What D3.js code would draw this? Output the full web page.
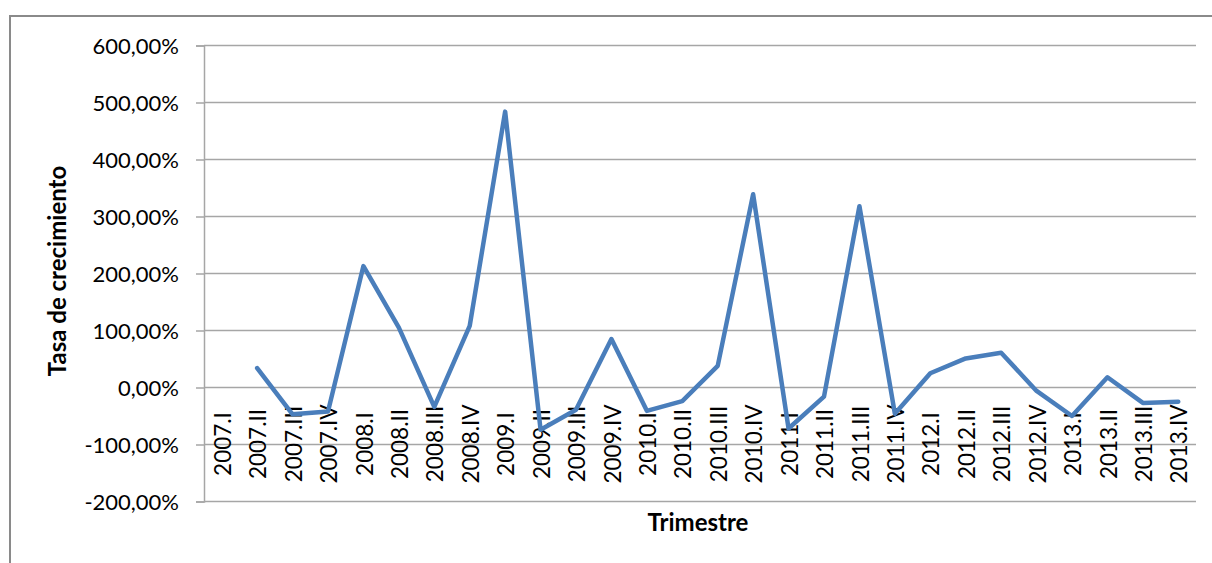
<!DOCTYPE html>
<html>
<head>
<meta charset="utf-8">
<script src="https://cdn.jsdelivr.net/npm/d3@7"></script>
<style>
  html, body { margin: 0; padding: 0; background: #fff; }
  svg { display: block; }
  text { font-family: Lato, "Open Sans", sans-serif; fill: #000; }
</style>
</head>
<body>
<svg id="chart" width="1212" height="563"></svg>
<script>
const categories = [
  "2007.I","2007.II","2007.III","2007.IV",
  "2008.I","2008.II","2008.III","2008.IV",
  "2009.I","2009.II","2009.III","2009.IV",
  "2010.I","2010.II","2010.III","2010.IV",
  "2011.I","2011.II","2011.III","2011.IV",
  "2012.I","2012.II","2012.III","2012.IV",
  "2013.I","2013.II","2013.III","2013.IV"
];
// growth rate in percent (2007.I has no value)
const growth = [
  null, 34, -47, -42,
  213, 105, -34, 108,
  484, -74, -39, 85,
  -41, -24, 38, 339,
  -72, -16, 318, -46,
  25, 51, 61, -6,
  -50, 18, -27, -25
];
const yTicks = [-200, -100, 0, 100, 200, 300, 400, 500, 600];
const yTitle = "Tasa de crecimiento";
const xTitle = "Trimestre";

const svg = d3.select("#chart");
const plotL = 204, plotR = 1196, plotT = 45.5, plotB = 501.5;

const x = d3.scaleBand().domain(categories).range([plotL, plotR]).padding(0);
const y = d3.scaleLinear().domain([-200, 600]).range([plotB, plotT]);

const loc = d3.formatLocale({decimal: ",", thousands: ".", grouping: [3], currency: ["", ""], minus: "-"});
const fmt = v => loc.format(".2f")(v) + "%";

// outer frame
svg.append("rect")
  .attr("x", 10).attr("y", 16).attr("width", 1230).attr("height", 600)
  .attr("fill", "none").attr("stroke", "#8a8a8a").attr("stroke-width", 2);

// gridlines
svg.append("g").selectAll("line").data(yTicks).join("line")
  .attr("x1", plotL).attr("x2", plotR)
  .attr("y1", d => y(d)).attr("y2", d => y(d))
  .attr("stroke", "#a6a6a6").attr("stroke-width", 1.5);

// y axis
const yAxis = d3.axisLeft(y).tickValues(yTicks).tickFormat(fmt).tickSize(8).tickPadding(17);
const gy = svg.append("g").attr("transform", `translate(${plotL},0)`).call(yAxis);
gy.select(".domain").attr("stroke", "#a6a6a6").attr("stroke-width", 1.5);
gy.selectAll(".tick line").attr("stroke", "#a6a6a6").attr("stroke-width", 1.5);
gy.selectAll(".tick text").attr("font-size", 22).attr("font-family", "Lato").attr("fill", "#111")
  .attr("dy", "0.36em");

// x labels (axis crosses at 0)
const xAxis = d3.axisBottom(x).tickSize(0).tickPadding(0);
const gx = svg.append("g").attr("transform", `translate(0,${y(0)})`).call(xAxis);
gx.select(".domain").remove();
gx.selectAll(".tick text")
  .attr("font-size", 22.5).attr("font-family", "Lato").attr("fill", "#111")
  .attr("text-anchor", "middle")
  .attr("transform", `translate(1,${444 - y(0)}) rotate(-90)`)
  .attr("x", 0).attr("y", 0).attr("dy", "0.36em");

// line
const line = d3.line()
  .defined(d => d.v !== null)
  .x(d => x(d.c) + x.bandwidth() / 2)
  .y(d => y(d.v));
svg.append("path")
  .datum(categories.map((c, i) => ({c, v: growth[i]})))
  .attr("d", line)
  .attr("fill", "none")
  .attr("stroke", "#4a7ebb")
  .attr("stroke-width", 4.5)
  .attr("stroke-linejoin", "round")
  .attr("stroke-linecap", "round");

// axis titles
svg.append("text")
  .attr("transform", `translate(66,271) rotate(-90)`)
  .attr("text-anchor", "middle")
  .attr("font-size", 24).attr("font-weight", "bold")
  .text(yTitle);
svg.append("text")
  .attr("x", 698).attr("y", 531)
  .attr("text-anchor", "middle")
  .attr("font-size", 24).attr("font-weight", "bold")
  .text(xTitle);
</script>
</body>
</html>
